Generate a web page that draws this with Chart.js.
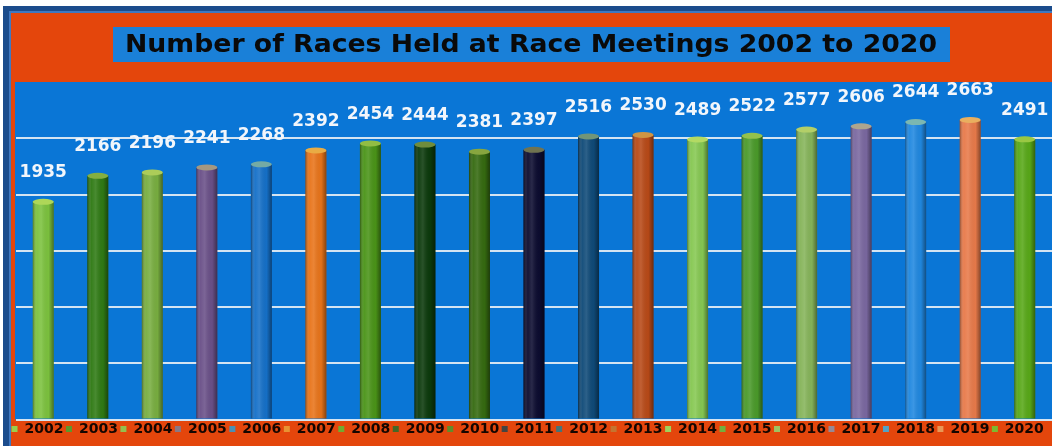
<!DOCTYPE html>
<html>
<head>
<meta charset="utf-8">
<script src="https://cdn.jsdelivr.net/npm/chart.js@4/dist/chart.umd.min.js"></script>
<style>
  html, body { margin: 0; padding: 0; background: #ffffff; overflow: hidden; }
  #wrap { width: 1052px; height: 446px; }
</style>
</head>
<body>
<div id="wrap"><canvas id="c" width="1052" height="446"></canvas></div>
<script>
const titleText = 'Number of Races Held at Race Meetings 2002 to 2020';
const years = ['2002','2003','2004','2005','2006','2007','2008','2009','2010','2011','2012','2013','2014','2015','2016','2017','2018','2019','2020'];
const races = [1935, 2166, 2196, 2241, 2268, 2392, 2454, 2444, 2381, 2397, 2516, 2530, 2489, 2522, 2577, 2606, 2644, 2663, 2491];
const barColors = ['#7cc23e','#2f7a14','#78ae40','#6a5088','#1570c8','#e8741a','#4a9418','#0c3a0c','#356a10','#0c0c30','#0f4a78','#b84a18','#86c852','#4a9a2a','#86b45a','#7a68a0','#2088e0','#e87a4a','#58a818'];
const yTicks = [0, 500, 1000, 1500, 2000, 2500, 3000];

function mix(hex, target, t) {
  const a = parseInt(hex.slice(1), 16);
  const r = (a >> 16) & 255, g = (a >> 8) & 255, b = a & 255;
  return 'rgb(' + Math.round(r + (target[0] - r) * t) + ',' + Math.round(g + (target[1] - g) * t) + ',' + Math.round(b + (target[2] - b) * t) + ')';
}

const decor = {
  id: 'decor',
  beforeDraw(chart) {
    const ctx = chart.ctx, W = chart.width, H = chart.height;
    ctx.save();
    ctx.fillStyle = '#ffffff';
    ctx.fillRect(0, 0, W, H);
    ctx.fillStyle = '#1b4c8c';
    ctx.fillRect(3, 6, W + 20, H + 20);
    ctx.fillStyle = '#3f78c0';
    ctx.fillRect(9, 11, W + 20, H + 20);
    ctx.fillStyle = '#e4460c';
    ctx.fillRect(11, 13, W + 20, H + 20);
    // title box
    ctx.fillStyle = '#1a80d8';
    ctx.fillRect(113, 27, 837, 35);
    ctx.font = 'bold 25px "DejaVu Sans"';
    const tw = ctx.measureText(titleText).width;
    const sx = 812 / tw;
    ctx.fillStyle = '#0a0a0a';
    ctx.textAlign = 'center';
    ctx.textBaseline = 'middle';
    ctx.translate(531, 45);
    ctx.scale(sx, 1);
    ctx.fillText(titleText, 0, 0);
    ctx.setTransform(1, 0, 0, 1, 0, 0);
    // plot area
    const a = chart.chartArea;
    ctx.fillStyle = '#0a76d6';
    ctx.fillRect(a.left - 1, a.top, W - a.left + 1, a.bottom - a.top);
    ctx.restore();
  },
  afterDatasetsDraw(chart) {
    const ctx = chart.ctx;
    const meta = chart.getDatasetMeta(0);
    ctx.save();
    meta.data.forEach((bar, i) => {
      const w = bar.width, left = bar.x - w / 2, top = bar.y, base = bar.base;
      const g = ctx.createLinearGradient(left, 0, left + w, 0);
      g.addColorStop(0, 'rgba(0,0,0,0.38)');
      g.addColorStop(0.2, 'rgba(255,255,255,0.04)');
      g.addColorStop(0.4, 'rgba(255,255,255,0.12)');
      g.addColorStop(0.75, 'rgba(0,0,0,0.02)');
      g.addColorStop(1, 'rgba(0,0,0,0.42)');
      ctx.fillStyle = g;
      ctx.fillRect(left, top, w, base - top);
      // top cap
      ctx.beginPath();
      ctx.ellipse(bar.x, top, w / 2, 3, 0, 0, Math.PI * 2);
      ctx.fillStyle = mix(barColors[i], [235, 240, 120], 0.45);
      ctx.fill();
      // value label
      ctx.font = 'bold 17px "DejaVu Sans"';
      ctx.fillStyle = '#f2f6fb';
      ctx.textAlign = 'center';
      ctx.textBaseline = 'middle';
      ctx.fillText(String(races[i]), bar.x, top - 29);
    });
    ctx.restore();
  }
};

new Chart(document.getElementById('c'), {
  type: 'bar',
  data: {
    labels: years,
    datasets: [{
      label: 'Races',
      data: races,
      backgroundColor: barColors,
      borderWidth: 0,
      barPercentage: 0.385,
      categoryPercentage: 1.0
    }]
  },
  options: {
    responsive: false,
    animation: false,
    layout: { padding: { left: 9, right: 0, top: 82, bottom: 0 } },
    scales: {
      x: { display: false },
      y: {
        min: yTicks[0],
        max: yTicks[yTicks.length - 1],
        afterBuildTicks(scale) { scale.ticks = yTicks.map(v => ({ value: v })); },
        afterFit(scale) { scale.width = 7; },
        ticks: { display: false },
        border: { display: false },
        grid: {
          drawTicks: false,
          lineWidth: 2,
          color: (c) => c.tick && c.tick.value === 3000 ? 'rgba(0,0,0,0)' : '#d4e4f2'
        }
      }
    },
    plugins: {
      title: { display: false },
      tooltip: { enabled: false },
      legend: {
        display: true,
        position: 'bottom',
        align: 'start',
        onClick: null,
        labels: {
          boxWidth: 6,
          boxHeight: 6,
          padding: 2.5,
          color: '#140600',
          font: { family: '"DejaVu Sans"', size: 14, weight: 'bold', lineHeight: 1.4 },
          generateLabels: () => years.map((y, i) => ({
            text: y,
            fillStyle: mix(barColors[i], [230, 240, 120], 0.25),
            strokeStyle: barColors[i],
            lineWidth: 0,
            hidden: false,
            index: i,
            fontColor: '#140600'
          }))
        }
      }
    }
  },
  plugins: [decor]
});
</script>
</body>
</html>
